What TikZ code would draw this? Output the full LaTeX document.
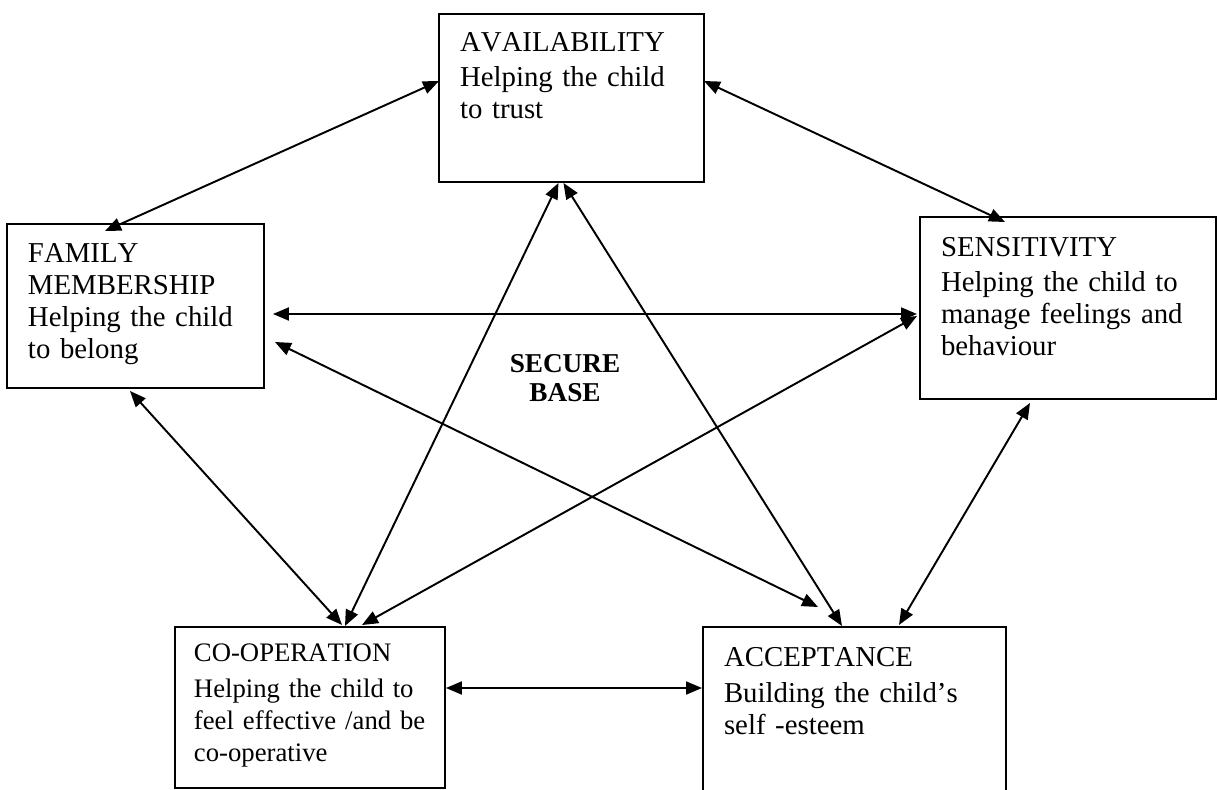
\documentclass[tikz,border=0pt]{standalone}
\usepackage{fontspec}
\setmainfont[Kerning=Off]{Liberation Serif}
\usetikzlibrary{arrows.meta}
\newcommand{\diagfont}{\fontsize{16.4}{18.2}\selectfont}
\newcommand{\smallfont}{\fontsize{15.2}{18.2}\selectfont}
\newcommand{\basefont}{\fontsize{15.5}{16.5}\selectfont\bfseries}
\tikzset{
    >={Triangle[length=0.32cm, width=0.26cm]},
    area/.style={draw, line width=1.3pt, rectangle, anchor=north west, align=left,
        inner xsep=0.42cm, inner ysep=0pt, outer sep=0pt, font=\diagfont},
    link/.style={<->, line width=1.1pt},
}
\begin{document}
\begin{tikzpicture}[x=0.02cm, y=-0.02cm]
    \useasboundingbox (0,0) rectangle (1219,790);
    % the five boxes
    \node[area, text width=4.46cm, text height=0.76cm, text depth=2.6cm] (avail) at (439,14)
        {AVAILABILITY\\[0.06cm] Helping the child\\ to trust};
    \node[area, text width=4.30cm, text height=0.78cm, text depth=2.5cm] (fam) at (7,224)
        {FAMILY\\ MEMBERSHIP\\ Helping the child\\ to belong};
    \node[area, text width=5.08cm, text height=0.8cm, text depth=2.84cm] (sens) at (920,217)
        {SENSITIVITY\\[0.06cm] Helping the child to\\ manage feelings and\\ behaviour};
    \node[area, font=\smallfont, inner xsep=0.38cm, text width=4.64cm, text height=0.7cm, text depth=2.52cm] (coop) at (175,627)
        {CO-OPERATION\\[0.07cm] Helping the child to\\ \mbox{feel effective /and be}\\ co-operative};
    \node[area, text width=5.22cm, text height=0.8cm, text depth=3.6cm] (accept) at (703,627)
        {ACCEPTANCE\\[0.07cm] Building the child’s\\ self -esteem};
    \node[align=center, font=\basefont] (base) at (565,378) {SECURE\\ BASE};
    % links
    \draw[link] ([shift={(0,67)}]avail.north west) -- ([shift={(98,7)}]fam.north west);
    \draw[link] ([shift={(0,67)}]avail.north east) -- ([shift={(85,5)}]sens.north west);
    \draw[link] ([shift={(-13,1)}]avail.south) -- ([shift={(170,-1)}]coop.north west);
    \draw[link] ([shift={(-8,1)}]avail.south) -- ([shift={(139,-1)}]accept.north west);
    \draw[link] ([shift={(9,90)}]fam.north east) -- ([shift={(-3,97)}]sens.north west);
    \draw[link] ([shift={(11,118)}]fam.north east) -- ([shift={(115,-20)}]accept.north west);
    \draw[link] ([shift={(123,3)}]fam.south west) -- ([shift={(167,-2)}]coop.north west);
    \draw[link] ([shift={(-3,99)}]sens.north west) -- ([shift={(187,-2)}]coop.north west);
    \draw[link] ([shift={(110,4)}]sens.south west) -- ([shift={(196,-2)}]accept.north west);
    \draw[link] ([shift={(1,61)}]coop.north east) -- ([shift={(-1,61)}]accept.north west);
\end{tikzpicture}
\end{document}
